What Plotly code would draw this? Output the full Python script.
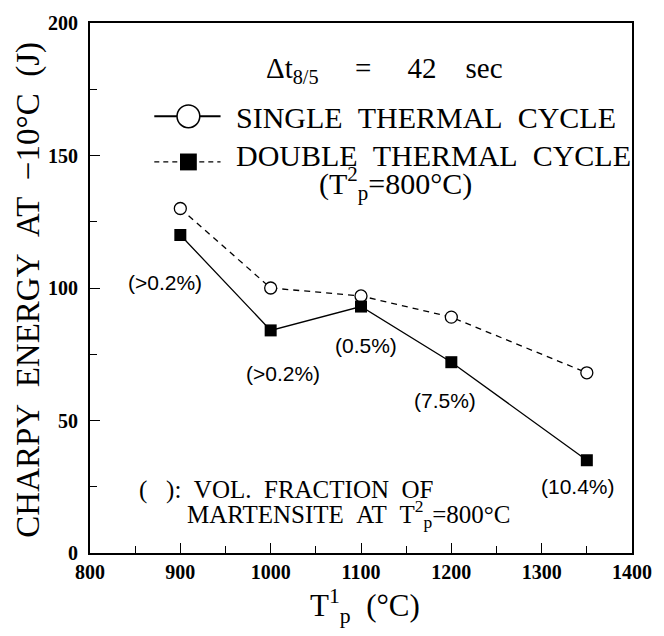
import plotly.graph_objects as go

# ---- data ----
peak_temp_1 = [900, 1000, 1100, 1200, 1350]          # T_p^1 (°C)
single_cycle = [130, 100, 97, 89, 68]                # Charpy energy (J)
double_cycle = [120, 84, 93, 72, 35]                 # Charpy energy (J)
martensite_labels = ["(>0.2%)", "(>0.2%)", "(0.5%)", "(7.5%)", "(10.4%)"]

x_ticks = [800, 900, 1000, 1100, 1200, 1300, 1400]
y_ticks = [0, 50, 100, 150, 200]

W, H = 664, 636
L, R, T, B = 90, 26, 19, 83
PW, PH = W - L - R, H - T - B

def px(x):
    return (x - L) / PW

def py(y):
    return (H - B - y) / PH

SERIF = "Liberation Serif"
SANS = "Liberation Sans"

fig = go.Figure()

fig.add_trace(go.Scatter(
    x=peak_temp_1, y=single_cycle, mode="lines+markers",
    line=dict(color="black", width=1.3, dash="6px,5px"),
    marker=dict(symbol="circle", size=12, color="white",
                line=dict(color="black", width=1.3)),
    showlegend=False, name="SINGLE THERMAL CYCLE"))

fig.add_trace(go.Scatter(
    x=peak_temp_1, y=double_cycle, mode="lines+markers",
    line=dict(color="black", width=1.3),
    marker=dict(symbol="square", size=12, color="black",
                line=dict(color="black", width=0)),
    showlegend=False, name="DOUBLE THERMAL CYCLE"))

# martensite fraction labels (pixel offsets from square markers)
offsets = [(-15, -47), (12, -43), (5, -39), (-6, -38), (-9, -26)]
annotations = []
for xv, yv, txt, (dx, dy) in zip(peak_temp_1, double_cycle, martensite_labels, offsets):
    annotations.append(dict(x=xv, y=yv, xref="x", yref="y", text=txt,
                            showarrow=False, xanchor="center", yanchor="middle",
                            xshift=dx, yshift=dy,
                            font=dict(family=SANS, size=21, color="black")))

SP = "\u00a0"
def spaced(s):
    return s.replace(" ", SP * 2)

def ann(x, y, text, size, xanchor="center", angle=0, family=SERIF):
    return dict(x=px(x), y=py(y), xref="paper", yref="paper", text=text,
                showarrow=False, xanchor=xanchor, yanchor="middle",
                textangle=angle, font=dict(family=family, size=size, color="black"))

annotations += [
    ann(388, 66, "Δt<sub>8/5</sub>" + SP * 5 + "=" + SP * 5 + "42" + SP * 4 + "sec", 29),
    ann(236, 114, spaced("SINGLE THERMAL CYCLE"), 30, "left"),
    ann(236, 153, spaced("DOUBLE THERMAL CYCLE"), 30, "left"),
    ann(399, 181, "(T<sup>2</sup><sub>p</sub>=800°C)", 30),
    ann(138, 490, "(" + SP * 3 + "):" + SP * 2 + spaced("VOL. FRACTION OF"), 25, "left"),
    ann(186, 514, spaced("MARTENSITE AT") + SP * 2 + "T<sup>2</sup><sub>p</sub>=800°C", 25, "left"),
    ann(28, 288, spaced("CHARPY ENERGY AT −10°C (J)"), 33, angle=-90),
    ann(368, 606, "T<sup>1</sup><sub>p</sub>" + SP * 2 + "(°C)", 31),
]

# manual legend symbols
shapes = [
    dict(type="line", xref="paper", yref="paper", x0=px(155), x1=px(222),
         y0=py(113), y1=py(113), line=dict(color="black", width=2)),
    dict(type="circle", xref="paper", yref="paper", x0=px(178), x1=px(201),
         y0=py(101.5), y1=py(124.5), fillcolor="white",
         line=dict(color="black", width=1.5)),
    dict(type="line", xref="paper", yref="paper", x0=px(155), x1=px(222),
         y0=py(159), y1=py(159), line=dict(color="black", width=1.3, dash="5px,4px")),
    dict(type="rect", xref="paper", yref="paper", x0=px(181), x1=px(198),
         y0=py(150.5), y1=py(167.5), fillcolor="black",
         line=dict(color="black", width=0)),
]

fig.update_layout(
    width=W, height=H,
    margin=dict(l=L, r=R, t=T, b=B),
    paper_bgcolor="white", plot_bgcolor="white",
    annotations=annotations, shapes=shapes,
    showlegend=False,
)
common = dict(showgrid=False, zeroline=False, showline=True, linecolor="black", linewidth=2,
              mirror=True, ticks="inside", ticklen=10, tickwidth=1.2, tickcolor="black",
              tickfont=dict(family=SERIF, size=20, color="black", weight="bold"))
fig.update_xaxes(range=[800, 1400], tickvals=x_ticks, ticktext=[str(v) for v in x_ticks],
                 minor=dict(dtick=50, ticks="inside", ticklen=7, tickwidth=1.2, tickcolor="black"),
                 **common)
fig.update_yaxes(range=[0, 200], tickvals=y_ticks, ticktext=[str(v) for v in y_ticks],
                 ticklabelstandoff=6,
                 minor=dict(dtick=25, ticks="inside", ticklen=7, tickwidth=1.2, tickcolor="black"),
                 **common)

fig.write_html("out.html")
